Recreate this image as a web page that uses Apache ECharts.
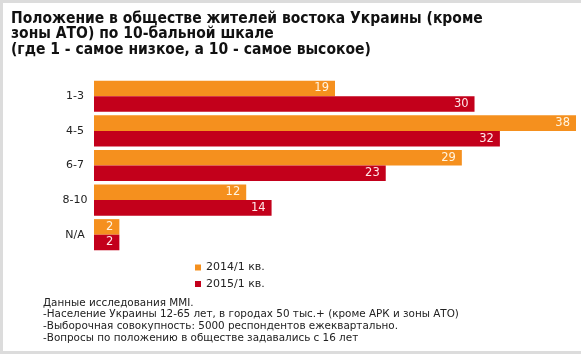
<!DOCTYPE html>
<html><head><meta charset="utf-8">
<script src="https://cdn.jsdelivr.net/npm/echarts@6/dist/echarts.min.js"></script>
<style>html,body{margin:0;padding:0;background:#fff}#c{width:581px;height:356px}</style>
</head><body><div id="c"></div>
<script>
const categories = ['1-3', '4-5', '6-7', '8-10', 'N/A'];
const series2014 = [19, 38, 29, 12, 2];
const series2015 = [30, 32, 23, 14, 2];
const seriesNames = ['2014/1 кв.', '2015/1 кв.'];
const titleText = 'Положение в обществе жителей востока Украины (кроме\nзоны АТО) по 10-бальной шкале\n(где 1 - самое низкое, а 10 - самое высокое)';
const noteText = 'Данные исследования MMI.\n-Население Украины 12-65 лет, в городах 50 тыс.+ (кроме АРК и зоны АТО)\n-Выборочная совокупность: 5000 респондентов ежеквартально.\n-Вопросы по положению в обществе задавались с 16 лет';

const FONT = '"DejaVu Sans", Verdana, sans-serif';
const FONT_T = '"DejaVu Sans Condensed", "DejaVu Sans", sans-serif';
const chart = echarts.init(document.getElementById('c'), null, {renderer: 'canvas'});
chart.setOption({
  animation: false,
  backgroundColor: '#fff',
  textStyle: {fontFamily: FONT},
  title: [{
    text: titleText, left: 6, top: 6,
    textStyle: {fontFamily: FONT_T, fontSize: 15.5, fontWeight: 'bold', color: '#111', lineHeight: 15.5}
  }, {
    text: noteText, left: 38, top: 292,
    textStyle: {fontFamily: FONT, fontSize: 10.4, fontWeight: 'normal', color: '#222', lineHeight: 11.7}
  }],
  graphic: [
    {type: 'rect', shape: {x: 0, y: 0, width: 581, height: 3}, style: {fill: '#dcdcdc'}, silent: true},
    {type: 'rect', shape: {x: 0, y: 0, width: 3, height: 354}, style: {fill: '#dcdcdc'}, silent: true},
    {type: 'rect', shape: {x: 0, y: 351, width: 581, height: 3}, style: {fill: '#dcdcdc'}, silent: true}
  ],
  legend: {
    orient: 'vertical', left: 190, top: 257, itemWidth: 6, itemHeight: 6, itemGap: 5.5,
    icon: 'rect',
    textStyle: {fontFamily: FONT, fontSize: 11, color: '#222'},
    data: seriesNames
  },
  grid: {left: 94, right: 5, top: 79, bottom: 104, containLabel: false},
  xAxis: {type: 'value', min: 0, max: 38, show: false},
  yAxis: {
    type: 'category', data: categories, inverse: true,
    axisLine: {show: false}, axisTick: {show: false},
    axisLabel: {align: 'center', margin: 19, fontFamily: FONT, fontSize: 11, color: '#222'}
  },
  series: [{
    name: seriesNames[0], type: 'bar', data: series2014,
    barGap: '0%', barCategoryGap: '10%',
    itemStyle: {color: '#F5901E'},
    label: {show: true, position: 'insideRight', distance: 6, fontFamily: FONT, fontSize: 11.5, color: '#FFF4E0'}
  }, {
    name: seriesNames[1], type: 'bar', data: series2015,
    itemStyle: {color: '#C3001B'},
    label: {show: true, position: 'insideRight', distance: 6, fontFamily: FONT, fontSize: 11.5, color: '#FFE8EA'}
  }]
});
</script></body></html>
